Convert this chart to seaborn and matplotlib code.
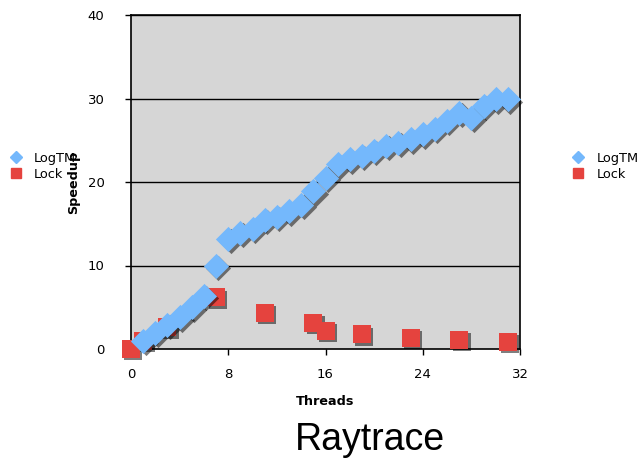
import matplotlib
matplotlib.use("Agg")
import matplotlib.pyplot as plt
import matplotlib.transforms as mtransforms
from matplotlib.lines import Line2D
import seaborn as sns
import pandas as pd

# Speedup of the Raytrace benchmark versus thread count
logtm_threads = list(range(1, 32))
logtm_speedup = [1.0, 1.9, 2.9, 3.8, 5.0, 6.4, 10.0, 13.2, 13.9, 14.4,
                 15.5, 15.8, 16.5, 17.3, 18.9, 20.5, 22.1, 22.7, 23.1, 23.7,
                 24.3, 24.7, 25.1, 25.7, 26.4, 27.3, 28.3, 27.7, 29.1, 29.9, 29.9]
lock_threads = [0, 1, 3, 7, 11, 15, 16, 19, 23, 27, 31]
lock_speedup = [0.0, 1.0, 2.6, 6.2, 4.35, 3.15, 2.15, 1.75, 1.35, 1.08, 0.88]

x_ticks = [0, 8, 16, 24, 32]
y_ticks = [0, 10, 20, 30, 40]
series_names = ["LogTM", "Lock"]

blue = "#74b8fc"
red = "#e5433e"

df_tm = pd.DataFrame({"Threads": logtm_threads, "Speedup": logtm_speedup})
df_lock = pd.DataFrame({"Threads": lock_threads, "Speedup": lock_speedup})

sns.set_style("white")
plt.rcParams["font.family"] = ["DejaVu Sans"]
plt.rcParams["text.color"] = "black"
plt.rcParams["axes.labelcolor"] = "black"

fig = plt.figure(figsize=(6.39, 4.62), dpi=100)
ax = fig.add_axes([131 / 639, 1 - 349 / 462, (520 - 131) / 639, (349 - 15) / 462])
ax.set_facecolor("#d6d6d6")

shadow = mtransforms.offset_copy(ax.transData, fig=fig, x=1.7, y=-1.7, units="points")

# drop shadows, then the markers themselves
sns.scatterplot(data=df_lock, x="Threads", y="Speedup", marker="s", s=185,
                color="black", alpha=0.5, linewidth=0, transform=shadow,
                clip_on=False, ax=ax, zorder=3)
sns.scatterplot(data=df_lock, x="Threads", y="Speedup", marker="s", s=185,
                color=red, linewidth=0, clip_on=False, ax=ax, zorder=4)
sns.scatterplot(data=df_tm, x="Threads", y="Speedup", marker="D", s=165,
                color="black", alpha=0.5, linewidth=0, transform=shadow,
                clip_on=False, ax=ax, zorder=5)
sns.scatterplot(data=df_tm, x="Threads", y="Speedup", marker="D", s=165,
                color=blue, linewidth=0, clip_on=False, ax=ax, zorder=6)

ax.set_xlim(0, 32)
ax.set_ylim(0, 40)
ax.set_xticks(x_ticks)
ax.set_yticks(y_ticks)
for v in y_ticks[1:]:
    ax.axhline(v, color="black", lw=1.0, zorder=1)

for side in ["left", "bottom", "right", "top"]:
    ax.spines[side].set_visible(True)
    ax.spines[side].set_color("black")
    ax.spines[side].set_linewidth(1.2)

ax.tick_params(axis="y", direction="out", length=4, width=1, pad=15,
               labelsize=9.5, left=True, colors="black")
ax.tick_params(axis="x", direction="out", length=4, width=1, pad=10,
               labelsize=9.5, bottom=True, colors="black")

ax.set_xlabel("Threads", fontsize=9.2, fontweight="bold")
ax.xaxis.set_label_coords(0.5, -0.137)
ax.set_ylabel("Speedup", fontsize=9.2, fontweight="bold")
ax.yaxis.set_label_coords(-0.13, 0.5)

handles = [
    Line2D([], [], marker="D", color=blue, linestyle="none", markersize=6.5),
    Line2D([], [], marker="s", color=red, linestyle="none", markersize=6.5),
]
for anchor in [(0.007, 0.64), (0.887, 0.64)]:
    fig.legend(handles, series_names, loc="center left", bbox_to_anchor=anchor,
               frameon=False, fontsize=9.3, handlelength=1.0, handletextpad=0.9,
               labelspacing=0.22, borderaxespad=0)

fig.text(370 / 639, 1 - 440 / 462, "Raytrace", ha="center", va="center",
         fontsize=27, family="Liberation Sans")

fig.savefig("out.png", dpi=100)
